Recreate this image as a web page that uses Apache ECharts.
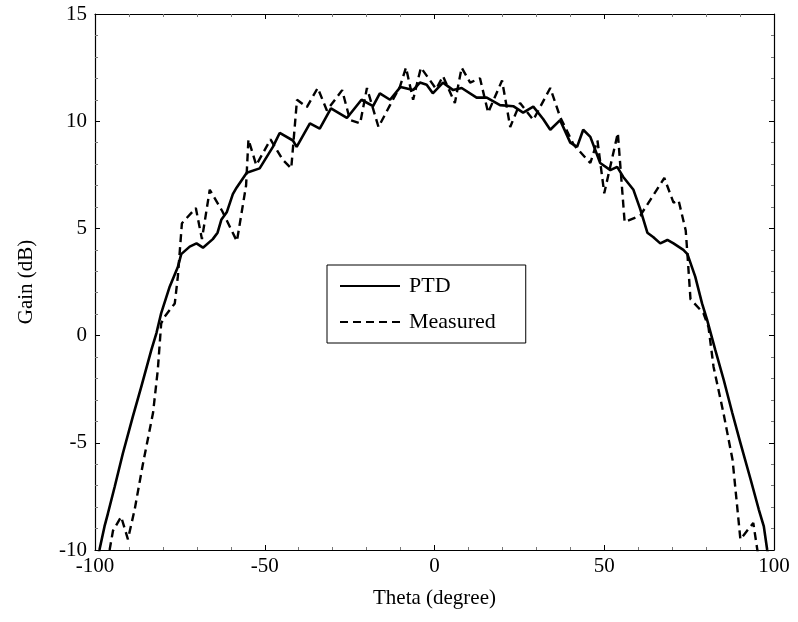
<!DOCTYPE html>
<html>
<head>
<meta charset="utf-8">
<script src="https://cdn.jsdelivr.net/npm/echarts@6/dist/echarts.min.js"></script>
<style>
html,body{margin:0;padding:0;background:#fff;}
#chart{width:798px;height:622px;}
</style>
</head>
<body>
<div id="chart"></div>
<script>
// PTD (solid) : [theta, gain]
const ptdTheta = [-100,-98.7,-97.2,-96.2,-94.2,-91.8,-88.9,-86.4,-83.4,-81.9,-80.5,-78.0,-75.6,-74.6,-72.1,-70.1,-68.2,-65.3,-63.9,-62.8,-61.2,-59.4,-58.3,-55.3,-51.5,-47.6,-45.6,-41.7,-40.6,-36.7,-33.8,-30.5,-25.8,-21.5,-18.1,-16.1,-13.1,-10.0,-6.3,-4.3,-2.3,-0.5,2.5,5.5,8.0,12.4,15.4,19.3,23.2,26.1,29.1,32.0,34.1,37.0,40.0,42.0,43.8,45.9,48.8,51.8,53.8,55.6,58.6,60.6,62.7,64.4,66.5,68.6,70.4,73.3,74.5,76.8,78.8,80.3,82.7,85.2,87.7,90.1,93.1,95.5,97.0,98.0,99.5];
const ptdGain  = [-10.8,-10,-8.9,-8.3,-7.05,-5.5,-3.8,-2.4,-0.67,0.12,1.05,2.28,3.2,3.8,4.15,4.3,4.1,4.5,4.8,5.4,5.75,6.6,6.9,7.6,7.8,8.8,9.45,9.1,8.8,9.9,9.65,10.6,10.15,11.0,10.7,11.3,11.0,11.6,11.45,11.8,11.7,11.3,11.8,11.45,11.55,11.1,11.1,10.75,10.7,10.4,10.68,10.1,9.6,10.05,9.0,8.8,9.6,9.27,8.05,7.72,7.87,7.4,6.8,5.9,4.8,4.6,4.3,4.46,4.3,4.0,3.8,2.75,1.5,0.73,-0.67,-2.07,-3.6,-5.0,-6.7,-8.1,-8.9,-10,-11];
// Measured (dashed)
const measTheta = [-96.5,-95.7,-94.7,-92.3,-90.3,-88.3,-85.9,-82.9,-81.5,-80.5,-79.5,-76.5,-75.6,-74.4,-70.3,-68.5,-66.2,-62.5,-58.2,-55.5,-54.8,-52.5,-48.3,-44.7,-42.2,-40.5,-37.6,-34.4,-31.7,-27.2,-24.9,-21.9,-19.9,-16.5,-13.1,-10.2,-8.4,-6.3,-4.0,-1.3,0.5,2.5,6.0,8.0,10.5,13.4,15.8,19.9,22.3,25.2,29.1,34.1,37.0,41.0,45.9,48.0,50.0,54.0,56.0,60.6,67.7,70.4,71.9,74.0,74.5,75.4,79.2,80.7,82.2,85.1,87.8,90.1,93.9,95.1,95.8];
const measGain  = [-10.6,-10,-9.1,-8.45,-9.5,-8.1,-6.0,-3.6,-1.6,0.57,0.88,1.5,2.75,5.24,5.95,4.5,6.8,5.8,4.4,7.0,9.15,7.95,9.15,8.2,7.8,11.0,10.66,11.55,10.5,11.45,10.06,9.9,11.55,9.73,10.75,11.6,12.5,11.0,12.5,11.9,11.5,12.1,10.85,12.5,11.8,12.0,10.4,11.9,9.73,10.85,10.06,11.55,10.2,8.9,8.05,9.1,6.64,9.45,5.3,5.6,7.35,6.2,6.3,4.9,3.8,1.7,1.05,0.4,-1.46,-3.6,-5.8,-9.5,-8.74,-10,-10.8];
const xTicks = [-100,-50,0,50,100];
const yTicks = [-10,-5,0,5,10,15];
const seriesNames = ['PTD','Measured'];

const zip = (a,b)=>a.map((v,i)=>[v,b[i]]);
const font = 'Liberation Serif';
const chart = echarts.init(document.getElementById('chart'));
const axisCommon = {
  axisLine:{show:true,onZero:false,lineStyle:{color:'#000',width:1.2}},
  axisTick:{show:true,inside:true,length:5,lineStyle:{color:'#000'}},
  minorTick:{show:true,splitNumber:5,length:3,lineStyle:{color:'#777'}},
  splitLine:{show:false}
};
chart.setOption({
  backgroundColor:'#fff',
  animation:false,
  grid:{left:95,right:24,top:14,bottom:72,containLabel:false},
  legend:{
    data:seriesNames, orient:'vertical', left:327, top:265,
    itemWidth:60, itemHeight:14, itemGap:14,
    padding:[10,30,10,12],
    borderColor:'#000', borderWidth:1, backgroundColor:'#fff',
    itemStyle:{opacity:0},
    textStyle:{fontFamily:font,fontSize:22,color:'#000',padding:[0,0,0,4]}
  },
  xAxis:[
    Object.assign({type:'value',min:-100,max:100,interval:50,position:'bottom',
      name:'Theta (degree)',nameLocation:'middle',nameGap:38,
      nameTextStyle:{fontFamily:font,fontSize:21,color:'#000'},
      axisLabel:{fontFamily:font,fontSize:21,color:'#000',margin:6}},axisCommon),
    Object.assign({type:'value',min:-100,max:100,interval:50,position:'top',
      axisLabel:{show:false}},axisCommon)
  ],
  yAxis:[
    Object.assign({type:'value',min:-10,max:15,interval:5,position:'left',
      name:'Gain (dB)',nameLocation:'middle',nameGap:58,nameRotate:90,
      nameTextStyle:{fontFamily:font,fontSize:21,color:'#000'},
      axisLabel:{fontFamily:font,fontSize:21,color:'#000',margin:8}},axisCommon),
    Object.assign({type:'value',min:-10,max:15,interval:5,position:'right',
      axisLabel:{show:false}},axisCommon)
  ],
  series:[
    {name:'PTD',type:'line',data:zip(ptdTheta,ptdGain),symbol:'none',clip:true,
     lineStyle:{color:'#000',width:2.6,type:'solid'},itemStyle:{color:'#000'}},
    {name:'Measured',type:'line',data:zip(measTheta,measGain),symbol:'none',clip:true,
     lineStyle:{color:'#000',width:2.4,type:[8,5]},itemStyle:{color:'#000'}}
  ]
});
</script>
</body>
</html>
